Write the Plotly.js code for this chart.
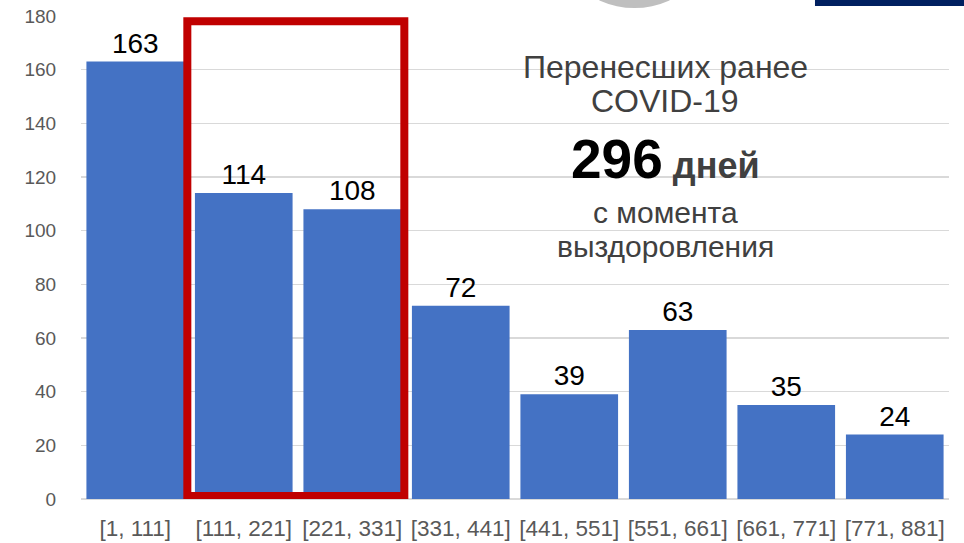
<!DOCTYPE html>
<html>
<head>
<meta charset="utf-8">
<script src="https://cdn.plot.ly/plotly-3.0.1.min.js"></script>
<style>html,body{margin:0;padding:0;background:#fff;}#chart{width:964px;height:543px;}</style>
</head>
<body>
<div id="chart"></div>
<script>
const categories = ["[1, 111]", "[111, 221]", "[221, 331]", "[331, 441]", "[441, 551]", "[551, 661]", "[661, 771]", "[771, 881]"];
const counts = [163, 114, 108, 72, 39, 63, 35, 24];
const yTicks = [0, 20, 40, 60, 80, 100, 120, 140, 160, 180];
const noteLines = ["Перенесших ранее", "COVID-19", "296", "дней", "с момента", "выздоровления"];

const trace = {
  type: 'bar',
  x: categories,
  y: counts,
  text: counts.map(String),
  textposition: 'outside',
  textfont: {family: 'Liberation Sans, Arial, sans-serif', size: 28, color: '#000000'},
  marker: {color: '#4472C4'},
  cliponaxis: false,
  constraintext: 'none',
  hoverinfo: 'none'
};

const gray = '#404040';
const layout = {
  width: 964, height: 543,
  margin: {l: 81, r: 15, t: 16, b: 44, pad: 0},
  paper_bgcolor: '#ffffff', plot_bgcolor: '#ffffff',
  showlegend: false,
  bargap: 0.1,
  font: {family: 'Liberation Sans, Arial, sans-serif'},
  xaxis: {
    type: 'category',
    tickfont: {size: 22.5, color: '#595959'},
    ticks: 'outside', ticklen: 9, tickcolor: 'rgba(0,0,0,0)',
    showline: false, showgrid: false, zeroline: false
  },
  yaxis: {
    range: [0, 180],
    tickvals: yTicks,
    tickfont: {size: 19, color: '#595959'},
    ticks: 'outside', ticklen: 20, tickcolor: 'rgba(0,0,0,0)',
    showgrid: true, gridcolor: '#d9d9d9', gridwidth: 1.5,
    zeroline: true, zerolinecolor: '#d9d9d9', zerolinewidth: 1.5,
    showline: false
  },
  shapes: [
    {type: 'rect', xref: 'x', yref: 'y', x0: 0.48, x1: 2.48, y0: 1.1, y1: 178,
     line: {color: '#C00000', width: 8}, fillcolor: 'rgba(0,0,0,0)', layer: 'above'},
    {type: 'circle', xref: 'paper', yref: 'paper', x0: 0.534, x1: 0.7412, y0: 1.0166, y1: 1.4166,
     line: {width: 0}, fillcolor: '#bfbfbf', layer: 'above'},
    {type: 'rect', xref: 'paper', yref: 'paper', x0: 0.8456, x1: 1.02, y0: 1.0207, y1: 1.05,
     line: {width: 0}, fillcolor: '#002060', layer: 'above'}
  ],
  annotations: [
    {xref: 'paper', yref: 'paper', x: 0.673, y: (499 - 67) / 483, text: noteLines[0], showarrow: false,
     font: {size: 32, color: gray}, xanchor: 'center', yanchor: 'middle'},
    {xref: 'paper', yref: 'paper', x: 0.673, y: (499 - 101) / 483, text: noteLines[1], showarrow: false,
     font: {size: 32, color: gray}, xanchor: 'center', yanchor: 'middle'},
    {xref: 'paper', yref: 'paper', x: 0.673, y: (499 - 159) / 483,
     text: '<b><span style="font-size:55px;color:#000000">' + noteLines[2] + '</span> <span style="font-size:36px;color:#404040">' + noteLines[3] + '</span></b>',
     showarrow: false, font: {size: 36, color: gray}, xanchor: 'center', yanchor: 'middle'},
    {xref: 'paper', yref: 'paper', x: 0.673, y: (499 - 213) / 483, text: noteLines[4], showarrow: false,
     font: {size: 30, color: gray}, xanchor: 'center', yanchor: 'middle'},
    {xref: 'paper', yref: 'paper', x: 0.673, y: (499 - 246) / 483, text: noteLines[5], showarrow: false,
     font: {size: 30, color: gray}, xanchor: 'center', yanchor: 'middle'}
  ]
};

Plotly.newPlot('chart', [trace], layout, {staticPlot: true, displayModeBar: false});
</script>
</body>
</html>
